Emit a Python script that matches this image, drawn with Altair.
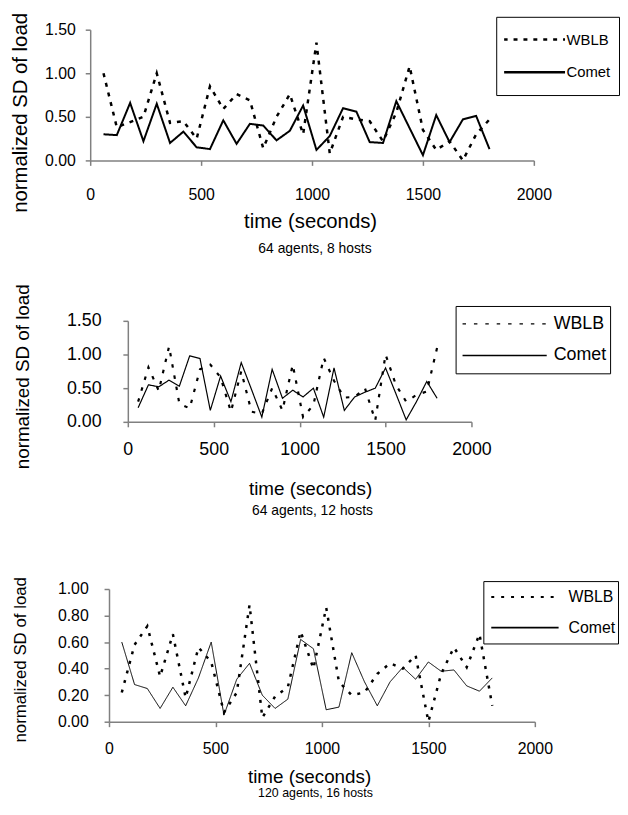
import altair as alt
import pandas as pd

# ---------------- data ----------------
time_s = [60, 120, 180, 240, 300, 360, 420, 480, 540, 600,
          660, 720, 780, 840, 900, 960, 1020, 1080, 1140, 1200,
          1260, 1320, 1380, 1440, 1500, 1560, 1620, 1680, 1740, 1800]
series_names = ["WBLB", "Comet"]
x_ticks = [0, 500, 1000, 1500, 2000]

p1_caption = "64 agents, 8 hosts"
p1_wblb = [1.00, 0.38, 0.44, 0.50, 1.00, 0.43, 0.45, 0.25, 0.85, 0.59,
           0.76, 0.69, 0.14, 0.50, 0.76, 0.30, 1.35, 0.08, 0.50, 0.47,
           0.45, 0.22, 0.55, 1.08, 0.35, 0.12, 0.22, 0.00, 0.30, 0.47]
p1_comet = [0.30, 0.29, 0.66, 0.22, 0.65, 0.20, 0.33, 0.15, 0.13, 0.46,
            0.19, 0.42, 0.40, 0.23, 0.34, 0.63, 0.12, 0.28, 0.60, 0.56,
            0.21, 0.20, 0.68, 0.37, 0.06, 0.52, 0.21, 0.47, 0.51, 0.13]
p1_yticks = [0.0, 0.5, 1.0, 1.5]

p2_caption = "64 agents, 12 hosts"
p2_wblb = [0.30, 0.81, 0.46, 1.12, 0.27, 0.20, 0.78, 0.85, 0.66, 0.15,
           0.75, 0.15, 0.12, 0.50, 0.17, 0.85, 0.07, 0.25, 0.95, 0.61,
           0.36, 0.37, 0.50, 0.02, 1.00, 0.55, 0.30, 0.40, 0.45, 1.10]
p2_comet = [0.21, 0.55, 0.52, 0.62, 0.53, 0.98, 0.94, 0.17, 0.68, 0.30,
            0.88, 0.48, 0.07, 0.78, 0.35, 0.47, 0.37, 0.50, 0.07, 0.80,
            0.17, 0.37, 0.44, 0.50, 0.80, 0.42, 0.03, 0.30, 0.60, 0.35]
p2_yticks = [0.0, 0.5, 1.0, 1.5]

p3_caption = "120 agents, 16 hosts"
p3_wblb = [0.22, 0.58, 0.72, 0.34, 0.66, 0.18, 0.56, 0.45, 0.07, 0.22,
           0.88, 0.03, 0.19, 0.26, 0.68, 0.40, 0.86, 0.30, 0.20, 0.22,
           0.36, 0.44, 0.40, 0.50, 0.00, 0.36, 0.56, 0.41, 0.66, 0.12]
p3_comet = [0.60, 0.28, 0.25, 0.10, 0.26, 0.12, 0.33, 0.60, 0.05, 0.32,
            0.44, 0.20, 0.10, 0.17, 0.62, 0.55, 0.09, 0.11, 0.52, 0.30,
            0.12, 0.30, 0.41, 0.32, 0.45, 0.38, 0.39, 0.27, 0.23, 0.33]
p3_yticks = [0.0, 0.2, 0.4, 0.6, 0.8, 1.0]

FONT = "Liberation Sans, Arial, Helvetica, sans-serif"
AXIS_GRAY = "#808080"


def long_df(wblb, comet):
    return pd.DataFrame({
        "time": time_s + time_s,
        "series": ["WBLB"] * len(time_s) + ["Comet"] * len(time_s),
        "sd": wblb + comet,
    })


def panel(df, caption, yticks, st):
    a, W, H = st["a"], st["w"], st["h"]
    xs = alt.Scale(domain=[0, 2000], nice=False, zero=False, range=[a, a + W])
    ys = alt.Scale(domain=[0, yticks[-1]], nice=False, zero=False)
    legend = alt.Legend(
        orient="none", legendX=st["lx"], legendY=st["ly"], title=None,
        padding=st["lpad"], strokeColor="black", fillColor="white",
        cornerRadius=0, symbolType="stroke", symbolSize=st["symsize"],
        symbolStrokeColor="black", symbolStrokeWidth=st["symsw"],
        symbolOffset=st["symoff"], clipHeight=st["clip"],
        labelFont=FONT, labelFontSize=st["lfs"], labelColor="black",
        labelOffset=st["loff"], rowPadding=st["rowpad"],
    )
    yaxis_kw = dict(
        values=yticks, format=".2f", title="normalized SD of load",
        labelFont=FONT, labelFontSize=st["ylfs"], labelColor="black",
        labelPadding=st["ylpad"], labelFlush=False, labelOverlap=False,
        tickSize=5, tickColor=AXIS_GRAY, tickWidth=1.5,
        domainColor=AXIS_GRAY, domainWidth=1.5, grid=False,
        titleFont=FONT, titleFontSize=st["ytfs"], titleFontWeight="normal",
        titleColor="black", titleX=st["ytx"], titleY=st["yty"],
        titleAlign="center", titleBaseline="alphabetic", titleAngle=270,
    )
    if a:
        yaxis_kw["offset"] = -a
    lines = alt.Chart(df).mark_line(color="black").encode(
        x=alt.X("time:Q", scale=xs, axis=alt.Axis(
            values=x_ticks, format="d", title="time (seconds)",
            labelFont=FONT, labelFontSize=st["xlfs"], labelColor="black",
            labelPadding=st["xlpad"], labelFlush=False, labelOverlap=False,
            tickSize=5, tickColor=AXIS_GRAY, tickWidth=1.5,
            domainColor=AXIS_GRAY, domainWidth=1.5, grid=False,
            titleFont=FONT, titleFontSize=st["xtfs"], titleFontWeight="normal",
            titleColor="black", titleX=st["xtx"], titleY=st["xty"],
            titleAlign="center", titleBaseline="middle")),
        y=alt.Y("sd:Q", scale=ys, axis=alt.Axis(**yaxis_kw)),
        strokeDash=alt.StrokeDash("series:N", scale=alt.Scale(
            domain=series_names, range=[st["dash"], [1, 0]]), legend=legend),
        strokeWidth=alt.condition(alt.datum.series == "WBLB",
                                  alt.value(st["ww"]), alt.value(st["cw"])),
    )
    return lines.properties(
        width=a + W, height=H,
        title=alt.TitleParams(
            caption, orient="bottom", anchor="middle", frame="group",
            font=FONT, fontSize=st["cfs"], fontWeight="normal", color="black",
            offset=st["coff"], dx=st["cdx"]),
    )


st1 = dict(a=0, w=448, h=132, lx=410, ly=-13, lpad=8, clip=30,
           symsize=3844, symsw=2.5, symoff=-2, lfs=15, loff=0, rowpad=3,
           xlfs=16, xlpad=21, xtfs=20.5, xtx=222, xty=62,
           ylfs=16, ylpad=10, ytfs=20.5, ytx=-64, yty=83.5,
           dash=[4, 6], ww=2.5, cw=2.0, cfs=14, coff=10, cdx=3)
st2 = dict(a=38, w=347, h=102, lx=369, ly=-15, lpad=3, clip=30,
           symsize=7225, symsw=1.3, symoff=3, lfs=18, loff=6, rowpad=2,
           xlfs=18, xlpad=14, xtfs=19, xtx=222, xty=67,
           ylfs=18, ylpad=22, ytfs=19, ytx=-100, yty=56,
           dash=[3.5, 8], ww=2.2, cw=1.2, cfs=14, coff=6, cdx=32)
st3 = dict(a=19, w=430, h=134, lx=397, ly=-8, lpad=2, clip=28,
           symsize=4624, symsw=2.0, symoff=5, lfs=16, loff=9, rowpad=3,
           xlfs=16, xlpad=14, xtfs=19, xtx=221, xty=55,
           ylfs=16, ylpad=16, ytfs=17, ytx=-84, yty=71,
           dash=[3, 7], ww=2.5, cw=1.0, cfs=12.5, coff=1, cdx=3)

c1 = panel(long_df(p1_wblb, p1_comet), p1_caption, p1_yticks, st1)
c2 = panel(long_df(p2_wblb, p2_comet), p2_caption, p2_yticks, st2)
c3 = panel(long_df(p3_wblb, p3_comet), p3_caption, p3_yticks, st3)

inner_stack = alt.concat(c2, c3, columns=1, spacing=58.8, align="none").resolve_scale(
    strokeDash="independent").resolve_legend(strokeDash="independent")
chart = alt.concat(c1, inner_stack, columns=1, spacing=27, align="none").resolve_scale(
    strokeDash="independent").resolve_legend(strokeDash="independent").properties(
    padding={"left": 3, "top": 0, "right": 0, "bottom": 0}, background="white"
).configure_view(stroke=None)

chart.save("out.html", embed_options={"renderer": "svg", "actions": False})
